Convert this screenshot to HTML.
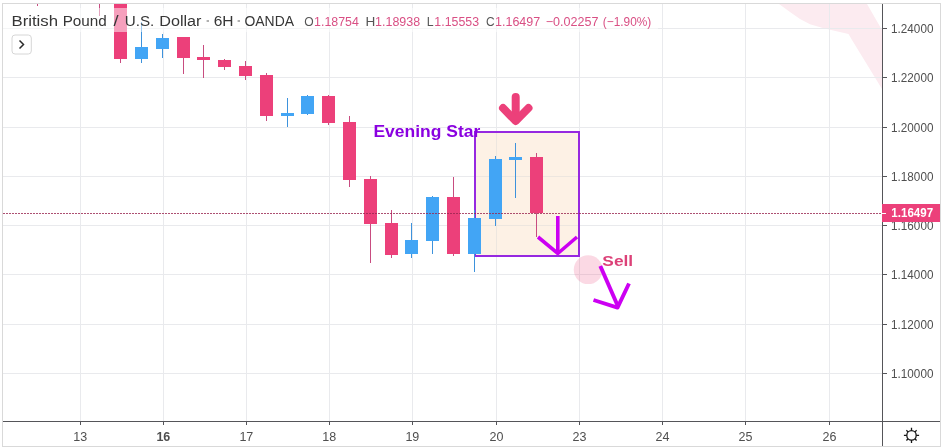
<!DOCTYPE html>
<html><head><meta charset="utf-8"><style>
html,body{margin:0;padding:0;background:#fff;}
body{width:945px;height:447px;position:relative;overflow:hidden;font-family:"Liberation Sans",sans-serif;}
svg{position:absolute;left:0;top:0;font-family:"Liberation Sans",sans-serif;will-change:transform;}
</style></head><body>
<svg width="945" height="447" viewBox="0 0 945 447">
<g shape-rendering="crispEdges">
<polygon points="779,4 867,4 882,30 882,89 852,40 848.5,34 830,29.7 822,27.7 810,24.2 800,19 790,12" fill="#fcebf0" shape-rendering="auto"/>
<rect x="80" y="4" width="1" height="417" fill="#e9eaed"/>
<rect x="163" y="4" width="1" height="417" fill="#e9eaed"/>
<rect x="246" y="4" width="1" height="417" fill="#e9eaed"/>
<rect x="329" y="4" width="1" height="417" fill="#e9eaed"/>
<rect x="412" y="4" width="1" height="417" fill="#e9eaed"/>
<rect x="496" y="4" width="1" height="417" fill="#e9eaed"/>
<rect x="579" y="4" width="1" height="417" fill="#e9eaed"/>
<rect x="662" y="4" width="1" height="417" fill="#e9eaed"/>
<rect x="745" y="4" width="1" height="417" fill="#e9eaed"/>
<rect x="829" y="4" width="1" height="417" fill="#e9eaed"/>
<rect x="3" y="28" width="879" height="1" fill="#e9eaed"/>
<rect x="3" y="77" width="879" height="1" fill="#e9eaed"/>
<rect x="3" y="127" width="879" height="1" fill="#e9eaed"/>
<rect x="3" y="176" width="879" height="1" fill="#e9eaed"/>
<rect x="3" y="225" width="879" height="1" fill="#e9eaed"/>
<rect x="3" y="274" width="879" height="1" fill="#e9eaed"/>
<rect x="3" y="324" width="879" height="1" fill="#e9eaed"/>
<rect x="3" y="373" width="879" height="1" fill="#e9eaed"/>
<rect x="474" y="131" width="106" height="126" fill="#fdf1e5"/>
<rect x="496" y="133" width="1" height="122" fill="#ede6df"/>
<rect x="476" y="176" width="102" height="1" fill="#ede6df"/>
<rect x="476" y="225" width="102" height="1" fill="#ede6df"/>
<rect x="475" y="132" width="104" height="124" fill="none" stroke="#9628e0" stroke-width="2"/>
<rect x="37" y="4" width="1" height="2" fill="#c84c80"/>
<rect x="99" y="4" width="1" height="12" fill="#c84c80"/>
<rect x="120" y="4" width="1" height="59" fill="#c84c80"/>
<rect x="114" y="4" width="13" height="55" fill="#EC407A"/>
<rect x="141" y="22" width="1" height="41" fill="#3d92dc"/>
<rect x="135" y="47" width="13" height="12" fill="#42A5F5"/>
<rect x="162" y="34" width="1" height="24" fill="#3d92dc"/>
<rect x="156" y="38" width="13" height="11" fill="#42A5F5"/>
<rect x="183" y="37" width="1" height="37" fill="#c84c80"/>
<rect x="177" y="37" width="13" height="21" fill="#EC407A"/>
<rect x="203" y="45" width="1" height="33" fill="#c84c80"/>
<rect x="197" y="57" width="13" height="3" fill="#EC407A"/>
<rect x="224" y="59" width="1" height="11" fill="#c84c80"/>
<rect x="218" y="60" width="13" height="7" fill="#EC407A"/>
<rect x="245" y="61" width="1" height="19" fill="#c84c80"/>
<rect x="239" y="66" width="13" height="10" fill="#EC407A"/>
<rect x="266" y="73" width="1" height="48" fill="#c84c80"/>
<rect x="260" y="75" width="13" height="41" fill="#EC407A"/>
<rect x="287" y="98" width="1" height="29" fill="#3d92dc"/>
<rect x="281" y="113" width="13" height="3" fill="#42A5F5"/>
<rect x="307" y="95" width="1" height="20" fill="#3d92dc"/>
<rect x="301" y="96" width="13" height="18" fill="#42A5F5"/>
<rect x="328" y="95" width="1" height="30" fill="#c84c80"/>
<rect x="322" y="96" width="13" height="27" fill="#EC407A"/>
<rect x="349" y="116" width="1" height="71" fill="#c84c80"/>
<rect x="343" y="122" width="13" height="58" fill="#EC407A"/>
<rect x="370" y="176" width="1" height="87" fill="#c84c80"/>
<rect x="364" y="179" width="13" height="45" fill="#EC407A"/>
<rect x="391" y="210" width="1" height="48" fill="#c84c80"/>
<rect x="385" y="223" width="13" height="32" fill="#EC407A"/>
<rect x="411" y="223" width="1" height="35" fill="#3d92dc"/>
<rect x="405" y="240" width="13" height="14" fill="#42A5F5"/>
<rect x="432" y="196" width="1" height="58" fill="#3d92dc"/>
<rect x="426" y="197" width="13" height="44" fill="#42A5F5"/>
<rect x="453" y="177" width="1" height="79" fill="#c84c80"/>
<rect x="447" y="197" width="13" height="57" fill="#EC407A"/>
<rect x="474" y="210" width="1" height="62" fill="#3d92dc"/>
<rect x="468" y="218" width="13" height="36" fill="#42A5F5"/>
<rect x="495" y="156" width="1" height="70" fill="#3d92dc"/>
<rect x="489" y="159" width="13" height="60" fill="#42A5F5"/>
<rect x="515" y="143" width="1" height="55" fill="#3d92dc"/>
<rect x="509" y="157" width="13" height="3" fill="#42A5F5"/>
<rect x="536" y="153" width="1" height="84" fill="#c84c80"/>
<rect x="530" y="157" width="13" height="56" fill="#EC407A"/>
<line x1="3" y1="213.5" x2="882" y2="213.5" stroke="#98244f" stroke-opacity="0.8" stroke-width="1" stroke-dasharray="2,1"/>
</g>
<circle cx="588.2" cy="269.7" r="14.4" fill="#EC407A" fill-opacity="0.2"/>
<g fill="none" stroke="#cc00f2" stroke-width="3.6" stroke-linecap="butt" stroke-linejoin="miter"><line x1="557.8" y1="216" x2="557.8" y2="252"/><polyline points="538,237 557.8,253.5 577,237"/></g>
<g fill="none" stroke="#EC407A" stroke-width="8" stroke-linecap="round" stroke-linejoin="round"><line x1="515.7" y1="97" x2="515.7" y2="120"/><polyline points="503,108 515.7,121 528.5,108"/></g>
<g fill="none" stroke="#cc00f2" stroke-width="3.9" stroke-linecap="butt" stroke-linejoin="round"><line x1="600.3" y1="266" x2="617.8" y2="306"/><polyline points="593.5,300 617.5,307.6 629,283.5"/></g>
<g shape-rendering="crispEdges">
<rect x="2.5" y="3.5" width="938" height="443" fill="none" stroke="#d9d9d9" stroke-width="1"/>
<rect x="882" y="4" width="1" height="442" fill="#555559"/>
<rect x="3" y="421" width="937" height="1" fill="#555559"/>
<rect x="883" y="28" width="4" height="1" fill="#555559"/>
<rect x="883" y="77" width="4" height="1" fill="#555559"/>
<rect x="883" y="127" width="4" height="1" fill="#555559"/>
<rect x="883" y="176" width="4" height="1" fill="#555559"/>
<rect x="883" y="225" width="4" height="1" fill="#555559"/>
<rect x="883" y="274" width="4" height="1" fill="#555559"/>
<rect x="883" y="324" width="4" height="1" fill="#555559"/>
<rect x="883" y="373" width="4" height="1" fill="#555559"/>
<rect x="80" y="422" width="1" height="3" fill="#555559"/>
<rect x="163" y="422" width="1" height="3" fill="#555559"/>
<rect x="246" y="422" width="1" height="3" fill="#555559"/>
<rect x="329" y="422" width="1" height="3" fill="#555559"/>
<rect x="412" y="422" width="1" height="3" fill="#555559"/>
<rect x="496" y="422" width="1" height="3" fill="#555559"/>
<rect x="579" y="422" width="1" height="3" fill="#555559"/>
<rect x="662" y="422" width="1" height="3" fill="#555559"/>
<rect x="745" y="422" width="1" height="3" fill="#555559"/>
<rect x="829" y="422" width="1" height="3" fill="#555559"/>
</g>
<rect x="3" y="8" width="655" height="24" fill="#ffffff" fill-opacity="0.5"/>
<text x="11.46" y="26" font-size="15.5" font-weight="normal" fill="#363636" textLength="46.59" lengthAdjust="spacingAndGlyphs" >British</text>
<text x="62.68" y="26" font-size="15.5" font-weight="normal" fill="#363636" textLength="44.14" lengthAdjust="spacingAndGlyphs" >Pound</text>
<text x="113.40" y="26" font-size="15.5" font-weight="normal" fill="#363636" textLength="5.06" lengthAdjust="spacingAndGlyphs" >/</text>
<text x="124.76" y="26" font-size="15.5" font-weight="normal" fill="#363636" textLength="29.58" lengthAdjust="spacingAndGlyphs" >U.S.</text>
<text x="159.21" y="26" font-size="15.5" font-weight="normal" fill="#363636" textLength="42.27" lengthAdjust="spacingAndGlyphs" >Dollar</text>
<text x="213.72" y="26" font-size="15.5" font-weight="normal" fill="#363636" textLength="19.87" lengthAdjust="spacingAndGlyphs" >6H</text>
<text x="244.47" y="26" font-size="15.5" font-weight="normal" fill="#363636" textLength="49.54" lengthAdjust="spacingAndGlyphs" >OANDA</text>
<rect x="206.6" y="20" width="2.4" height="2" fill="#b0b0b0"/>
<rect x="237.6" y="20" width="2.4" height="2" fill="#b0b0b0"/>
<text x="304.25" y="26" font-size="12.5" font-weight="normal" fill="#555555" textLength="9.42" lengthAdjust="spacingAndGlyphs" >O</text>
<text x="314.07" y="26" font-size="12.5" font-weight="normal" fill="#d94f84" textLength="44.80" lengthAdjust="spacingAndGlyphs" >1.18754</text>
<text x="365.41" y="26" font-size="12.5" font-weight="normal" fill="#555555" textLength="9.80" lengthAdjust="spacingAndGlyphs" >H</text>
<text x="375.07" y="26" font-size="12.5" font-weight="normal" fill="#d94f84" textLength="45.03" lengthAdjust="spacingAndGlyphs" >1.18938</text>
<text x="426.71" y="26" font-size="12.5" font-weight="normal" fill="#555555" textLength="6.87" lengthAdjust="spacingAndGlyphs" >L</text>
<text x="434.37" y="26" font-size="12.5" font-weight="normal" fill="#d94f84" textLength="44.72" lengthAdjust="spacingAndGlyphs" >1.15553</text>
<text x="485.90" y="26" font-size="12.5" font-weight="normal" fill="#555555" textLength="8.64" lengthAdjust="spacingAndGlyphs" >C</text>
<text x="495.06" y="26" font-size="12.5" font-weight="normal" fill="#d94f84" textLength="45.16" lengthAdjust="spacingAndGlyphs" >1.16497</text>
<text x="545.67" y="26" font-size="12.5" font-weight="normal" fill="#d94f84" textLength="52.74" lengthAdjust="spacingAndGlyphs" >−0.02257</text>
<text x="602.79" y="26" font-size="12.5" font-weight="normal" fill="#d94f84" textLength="48.43" lengthAdjust="spacingAndGlyphs" >(−1.90%)</text>
<rect x="12" y="35" width="19.3" height="19" rx="3" fill="#ffffff" stroke="#d6d6d6"/>
<polyline points="19.5,40.5 23.5,44.5 19.5,48.5" fill="none" stroke="#2a2a2a" stroke-width="1.5"/>
<text x="373.46" y="137" font-size="16" font-weight="bold" fill="#8a00e0" textLength="106.76" lengthAdjust="spacingAndGlyphs" >Evening Star</text>
<text x="602.38" y="266" font-size="15" font-weight="bold" fill="#dc4178" textLength="30.81" lengthAdjust="spacingAndGlyphs" >Sell</text>
<text x="891.12" y="33" font-size="12.5" font-weight="normal" fill="#4f4f4f" textLength="42.28" lengthAdjust="spacingAndGlyphs" >1.24000</text>
<text x="891.12" y="82" font-size="12.5" font-weight="normal" fill="#4f4f4f" textLength="42.28" lengthAdjust="spacingAndGlyphs" >1.22000</text>
<text x="891.12" y="132" font-size="12.5" font-weight="normal" fill="#4f4f4f" textLength="42.28" lengthAdjust="spacingAndGlyphs" >1.20000</text>
<text x="891.12" y="181" font-size="12.5" font-weight="normal" fill="#4f4f4f" textLength="42.28" lengthAdjust="spacingAndGlyphs" >1.18000</text>
<text x="891.12" y="230" font-size="12.5" font-weight="normal" fill="#4f4f4f" textLength="42.28" lengthAdjust="spacingAndGlyphs" >1.16000</text>
<text x="891.12" y="279" font-size="12.5" font-weight="normal" fill="#4f4f4f" textLength="42.28" lengthAdjust="spacingAndGlyphs" >1.14000</text>
<text x="891.12" y="329" font-size="12.5" font-weight="normal" fill="#4f4f4f" textLength="42.28" lengthAdjust="spacingAndGlyphs" >1.12000</text>
<text x="891.12" y="378" font-size="12.5" font-weight="normal" fill="#4f4f4f" textLength="42.28" lengthAdjust="spacingAndGlyphs" >1.10000</text>
<text x="73.34" y="441" font-size="12.5" font-weight="normal" fill="#4f4f4f" textLength="13.90" lengthAdjust="spacingAndGlyphs" >13</text>
<text x="156.41" y="441" font-size="12.5" font-weight="bold" fill="#4f4f4f" textLength="13.90" lengthAdjust="spacingAndGlyphs" >16</text>
<text x="239.41" y="441" font-size="12.5" font-weight="normal" fill="#4f4f4f" textLength="13.90" lengthAdjust="spacingAndGlyphs" >17</text>
<text x="322.34" y="441" font-size="12.5" font-weight="normal" fill="#4f4f4f" textLength="13.90" lengthAdjust="spacingAndGlyphs" >18</text>
<text x="405.38" y="441" font-size="12.5" font-weight="normal" fill="#4f4f4f" textLength="13.90" lengthAdjust="spacingAndGlyphs" >19</text>
<text x="489.47" y="441" font-size="12.5" font-weight="normal" fill="#4f4f4f" textLength="13.90" lengthAdjust="spacingAndGlyphs" >20</text>
<text x="572.50" y="441" font-size="12.5" font-weight="normal" fill="#4f4f4f" textLength="13.90" lengthAdjust="spacingAndGlyphs" >23</text>
<text x="655.44" y="441" font-size="12.5" font-weight="normal" fill="#4f4f4f" textLength="13.90" lengthAdjust="spacingAndGlyphs" >24</text>
<text x="738.50" y="441" font-size="12.5" font-weight="normal" fill="#4f4f4f" textLength="13.90" lengthAdjust="spacingAndGlyphs" >25</text>
<text x="822.50" y="441" font-size="12.5" font-weight="normal" fill="#4f4f4f" textLength="13.90" lengthAdjust="spacingAndGlyphs" >26</text>
<rect x="882" y="204" width="58" height="18" fill="#EC407A" shape-rendering="crispEdges"/>
<rect x="882" y="213" width="4" height="1" fill="#ffffff" shape-rendering="crispEdges"/>
<text x="891.31" y="217" font-size="12" font-weight="bold" fill="#ffffff" textLength="41.86" lengthAdjust="spacingAndGlyphs" >1.16497</text>
<g transform="translate(911.5,435.4)" fill="none" stroke="#161616" stroke-width="1.3"><circle r="4.7"/><path d="M0,-4.7 V-7.6 M0,4.7 V7.6 M-4.7,0 H-7.6 M4.7,0 H7.6 M3.3,-3.3 L5.1,-5.1 M-3.3,-3.3 L-5.1,-5.1 M3.3,3.3 L5.1,5.1 M-3.3,3.3 L-5.1,5.1"/></g>
</svg>
</body></html>
